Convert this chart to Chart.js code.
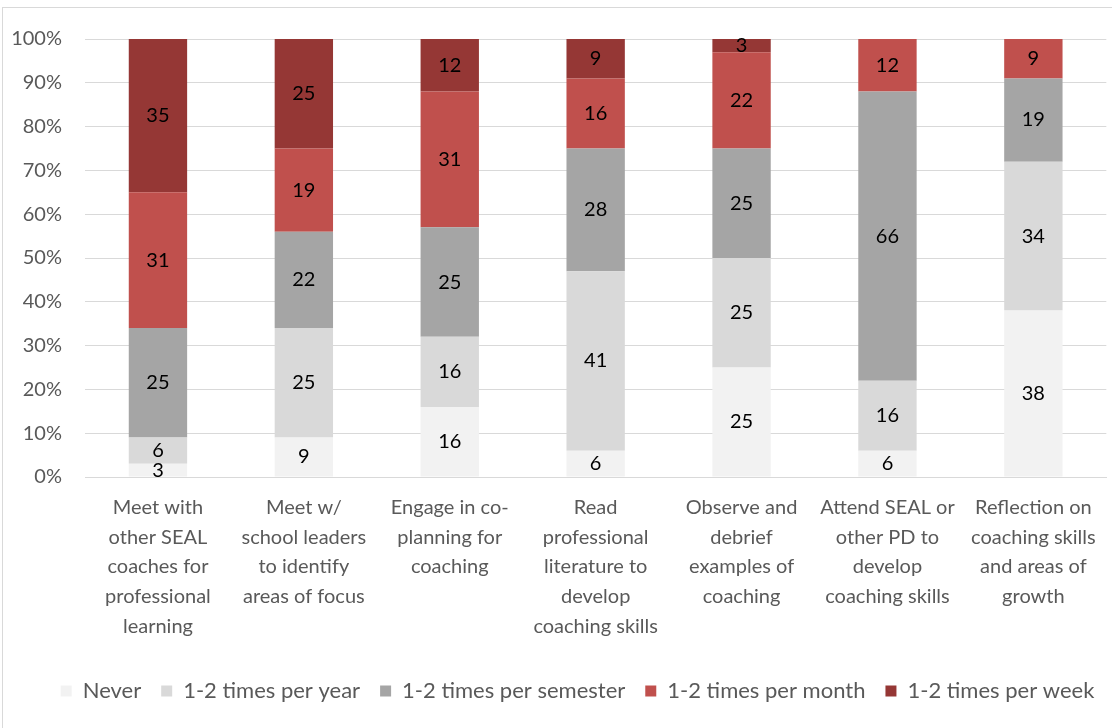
<!DOCTYPE html>
<html>
<head>
<meta charset="utf-8">
<script src="https://cdn.jsdelivr.net/npm/chart.js@4/dist/chart.umd.min.js"></script>
<style>
  html, body { margin: 0; padding: 0; background: #fff; }
  #wrap { position: relative; width: 1112px; height: 728px; overflow: hidden; }
  #frame { position: absolute; left: 2px; top: 7px; width: 1200px; height: 800px;
           border: 1px solid #d9d9d9; box-sizing: border-box; }
  canvas { position: absolute; left: 0; top: 0; }
</style>
</head>
<body>
<div id="wrap">
  <div id="frame"></div>
  <canvas id="c" width="1112" height="728"></canvas>
</div>
<script>
// Activity categories (multi-line axis labels)
const categories = [
  ["Meet with", "other SEAL", "coaches for", "professional", "learning"],
  ["Meet w/", "school leaders", "to identify", "areas of focus"],
  ["Engage in co-", "planning for", "coaching"],
  ["Read", "professional", "literature to", "develop", "coaching skills"],
  ["Observe and", "debrief", "examples of", "coaching"],
  ["Attend SEAL or", "other PD to", "develop", "coaching skills"],
  ["Reflection on", "coaching skills", "and areas of", "growth"]
];

// Percent of respondents per frequency
const never       = [3, 9, 16, 6, 25, 6, 38];
const perYear     = [6, 25, 16, 41, 25, 16, 34];
const perSemester = [25, 22, 25, 28, 25, 66, 19];
const perMonth    = [31, 19, 31, 16, 22, 12, 9];
const perWeek     = [35, 25, 12, 9, 3, 0, 0];

const seriesNames = ["Never", "1-2 times per year", "1-2 times per semester",
                     "1-2 times per month", "1-2 times per week"];
const seriesColors = ["#f2f2f2", "#d9d9d9", "#a5a5a5", "#c0504d", "#953735"];
const seriesValues = [never, perYear, perSemester, perMonth, perWeek];

const yTicks = [0, 10, 20, 30, 40, 50, 60, 70, 80, 90, 100];

const FONT = "Lato, Calibri, 'Liberation Sans', sans-serif";

// Writes each non-zero segment value in the middle of its bar segment
const segmentLabels = {
  id: 'segmentLabels',
  afterDatasetsDraw(chart) {
    const ctx = chart.ctx;
    ctx.save();
    ctx.font = "20px " + FONT;
    ctx.fillStyle = "#000";
    ctx.textAlign = "center";
    ctx.textBaseline = "middle";
    chart.data.datasets.forEach((ds, i) => {
      const meta = chart.getDatasetMeta(i);
      meta.data.forEach((bar, j) => {
        const v = ds.data[j];
        if (!v) return;
        const yMid = (bar.y + bar.base) / 2;
        ctx.fillText(String(v), bar.x, yMid);
      });
    });
    ctx.restore();
  }
};

// Nudges the legend row a little lower and to the right of its default slot
const legendOffset = {
  id: 'legendOffset',
  afterLayout(chart) {
    const lg = chart.legend;
    if (!lg) return;
    const dx = 24, dy = 3;
    lg.left += dx; lg.right += dx;
    lg.top += dy; lg.bottom += dy;
  }
};

new Chart(document.getElementById('c'), {
  type: 'bar',
  data: {
    labels: categories,
    datasets: seriesNames.map((name, i) => ({
      label: name,
      data: seriesValues[i],
      backgroundColor: seriesColors[i],
      borderWidth: 0,
      categoryPercentage: 1,
      barPercentage: 0.4
    }))
  },
  options: {
    responsive: false,
    animation: false,
    devicePixelRatio: 1,
    layout: { padding: { top: 39, left: 0, right: 5, bottom: 19 } },
    scales: {
      x: {
        stacked: true,
        grid: { display: false, drawTicks: false },
        border: { color: '#d9d9d9', width: 1 },
        ticks: {
          color: '#595959',
          font: { family: FONT, size: 20, lineHeight: 1.48 },
          padding: 16,
          maxRotation: 0,
          autoSkip: false
        }
      },
      y: {
        stacked: true,
        min: 0,
        max: 100,
        afterBuildTicks(axis) { axis.ticks = yTicks.map(v => ({ value: v })); },
        afterFit(axis) { axis.width = 85; },
        grid: { color: '#d9d9d9', lineWidth: 1, drawTicks: false },
        border: { display: false },
        ticks: {
          color: '#595959',
          font: { family: FONT, size: 20 },
          padding: 23,
          callback: v => v + '%'
        }
      }
    },
    plugins: {
      legend: {
        position: 'bottom',
        labels: {
          color: '#595959',
          font: { family: FONT, size: 22 },
          boxWidth: 11,
          boxHeight: 11,
          padding: 20,
          useBorderRadius: false
        }
      },
      tooltip: { enabled: false },
      title: { display: false }
    }
  },
  plugins: [segmentLabels, legendOffset]
});
</script>
</body>
</html>
